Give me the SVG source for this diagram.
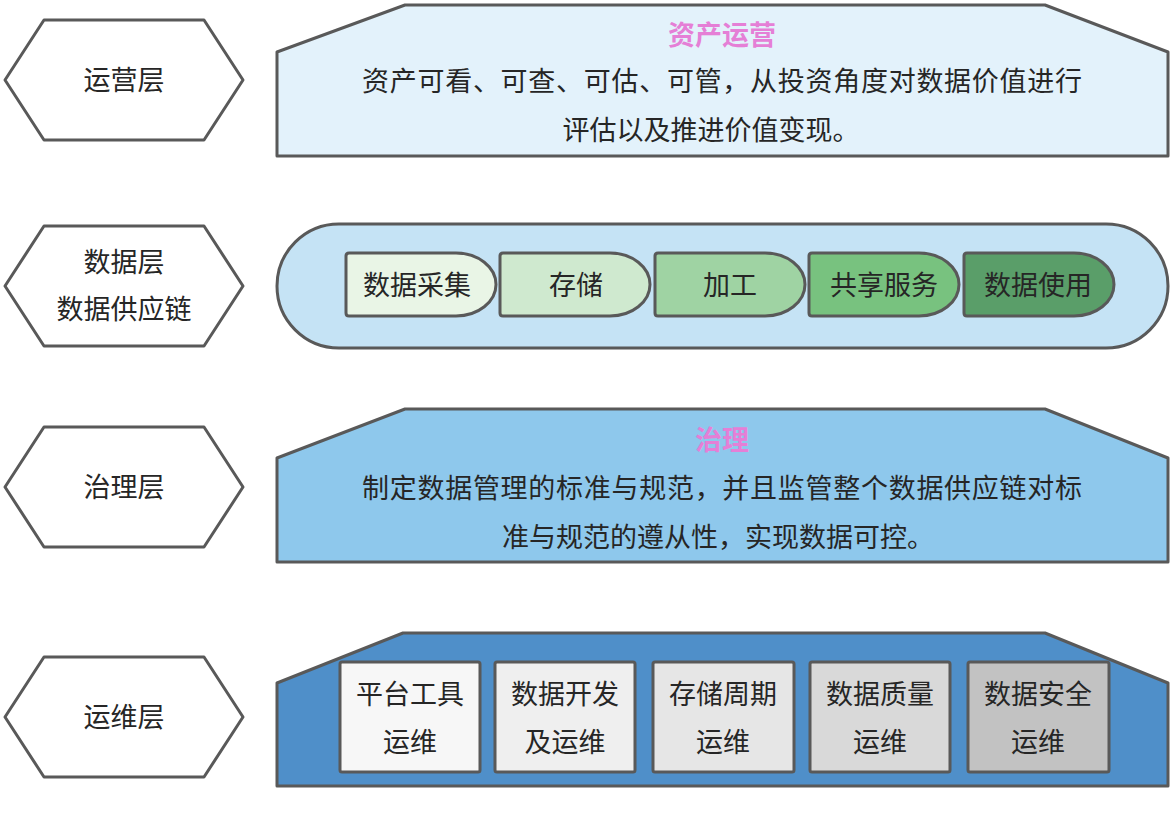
<svg xmlns="http://www.w3.org/2000/svg" width="1173" height="826" viewBox="0 0 1173 826">
<style>
.s{stroke:#595959;stroke-width:3;stroke-linejoin:round}
.t{font-family:"Noto Sans CJK SC","Noto Sans",sans-serif;font-size:27px;fill:#262626;text-anchor:middle;dominant-baseline:central}
.h{font-family:"Noto Sans CJK SC","Noto Sans",sans-serif;font-size:27px;font-weight:bold;fill:#e57fd6;text-anchor:middle;dominant-baseline:central}
</style>
<rect width="1173" height="826" fill="#ffffff"/>
<g id="hex-yunying">
<polygon class="s" fill="#ffffff" points="5,80 44,20 204,20 243,80 204,140 44,140"/>
<text class="t" x="124" y="78">运营层</text>
</g>
<g id="hex-shuju">
<polygon class="s" fill="#ffffff" points="5,286 44,226 204,226 243,286 204,346 44,346"/>
<text class="t" x="124" y="260">数据层</text>
<text class="t" x="124" y="307">数据供应链</text>
</g>
<g id="hex-zhili">
<polygon class="s" fill="#ffffff" points="5,487 44,427 204,427 243,487 204,547 44,547"/>
<text class="t" x="124" y="485">治理层</text>
</g>
<g id="hex-yunwei">
<polygon class="s" fill="#ffffff" points="5,717 44,657 204,657 243,717 204,777 44,777"/>
<text class="t" x="124" y="715">运维层</text>
</g>
<g id="box-zichan">
<polygon class="s" fill="#e3f2fb" points="277,52 405,5 1045,5 1168,52 1168,156 277,156"/>
<text class="h" x="722" y="33">资产运营</text>
<text class="t" x="722" y="79" textLength="720">资产可看、可查、可估、可管，从投资角度对数据价值进行</text>
<text class="t" x="711" y="128">评估以及推进价值变现。</text>
</g>
<g id="box-chain">
<rect class="s" fill="#c5e3f5" x="277" y="224" width="891" height="124" rx="62" ry="62"/>
<g id="c1"><path class="s" fill="#e9f5e6" d="M346,256 q0,-3 3,-3 h107 a40,31.5 0 0 1 0,63 h-107 q-3,0 -3,-3 z"/><text class="t" x="417" y="283">数据采集</text></g>
<g id="c2"><path class="s" fill="#cfe9cf" d="M500,256 q0,-3 3,-3 h107 a40,31.5 0 0 1 0,63 h-107 q-3,0 -3,-3 z"/><text class="t" x="576" y="283">存储</text></g>
<g id="c3"><path class="s" fill="#9fd3a3" d="M655,256 q0,-3 3,-3 h107 a40,31.5 0 0 1 0,63 h-107 q-3,0 -3,-3 z"/><text class="t" x="730" y="283">加工</text></g>
<g id="c4"><path class="s" fill="#78c27f" d="M809,256 q0,-3 3,-3 h107 a40,31.5 0 0 1 0,63 h-107 q-3,0 -3,-3 z"/><text class="t" x="884" y="283">共享服务</text></g>
<g id="c5"><path class="s" fill="#5a9e69" d="M964,256 q0,-3 3,-3 h107 a40,31.5 0 0 1 0,63 h-107 q-3,0 -3,-3 z"/><text class="t" x="1038" y="283">数据使用</text></g>
</g>
<g id="box-zhili">
<polygon class="s" fill="#8ec8ec" points="277,458 405,409 1045,409 1168,458 1168,562 277,562"/>
<text class="h" x="722" y="438">治理</text>
<text class="t" x="722" y="486" textLength="720">制定数据管理的标准与规范，并且监管整个数据供应链对标</text>
<text class="t" x="718" y="535">准与规范的遵从性，实现数据可控。</text>
</g>
<g id="box-yunwei">
<polygon class="s" fill="#4f8fc9" points="277,683 403,633 1045,633 1168,683 1168,786 277,786"/>
<g id="o1"><rect class="s" fill="#f7f7f7" x="340" y="662" width="140" height="110" rx="2"/><text class="t" x="410" y="692">平台工具</text><text class="t" x="410" y="740">运维</text></g>
<g id="o2"><rect class="s" fill="#efefef" x="495" y="662" width="140" height="110" rx="2"/><text class="t" x="565" y="692">数据开发</text><text class="t" x="565" y="740">及运维</text></g>
<g id="o3"><rect class="s" fill="#e6e6e6" x="653" y="662" width="141" height="110" rx="2"/><text class="t" x="723" y="692">存储周期</text><text class="t" x="723" y="740">运维</text></g>
<g id="o4"><rect class="s" fill="#d9d9d9" x="810" y="662" width="140" height="110" rx="2"/><text class="t" x="880" y="692">数据质量</text><text class="t" x="880" y="740">运维</text></g>
<g id="o5"><rect class="s" fill="#c2c2c2" x="968" y="662" width="141" height="110" rx="2"/><text class="t" x="1038" y="692">数据安全</text><text class="t" x="1038" y="740">运维</text></g>
</g>
<g id="connectors"></g>
</svg>
